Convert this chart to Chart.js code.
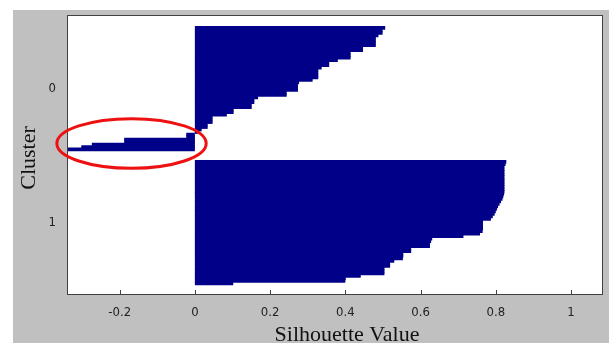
<!DOCTYPE html>
<html>
<head>
<meta charset="utf-8">
<script src="https://cdn.jsdelivr.net/npm/chart.js@4/dist/chart.umd.min.js"></script>
<style>
  body { margin: 0; background: #fff; }
  canvas { display: block; }
</style>
</head>
<body>
<canvas id="silChart" width="609" height="343"></canvas>
<script>
// silhouette values, sorted per cluster (top to bottom)
const cluster0 = [
  0.506, 0.499, 0.499, 0.488, 0.481, 0.481, 0.481, 0.481, 0.447, 0.447,
  0.414, 0.414, 0.414, 0.380, 0.357, 0.357, 0.337, 0.328, 0.328, 0.328,
  0.328, 0.313, 0.277, 0.274, 0.274, 0.274, 0.244, 0.244, 0.168, 0.158,
  0.158, 0.151, 0.151, 0.103, 0.103, 0.085, 0.047, 0.047, 0.047, 0.034,
  0.034, 0.018, 0.008, -0.023, -0.023, -0.188, -0.188, -0.274, -0.302, -0.345
];
const cluster1 = [
  0.828, 0.826, 0.823, 0.823, 0.823, 0.823, 0.823, 0.823, 0.823, 0.823,
  0.823, 0.823, 0.823, 0.822, 0.820, 0.818, 0.814, 0.810, 0.806, 0.803,
  0.800, 0.797, 0.792, 0.787, 0.766, 0.766, 0.766, 0.766, 0.765, 0.758,
  0.714, 0.631, 0.628, 0.625, 0.625, 0.575, 0.575, 0.554, 0.554, 0.553,
  0.530, 0.519, 0.519, 0.504, 0.504, 0.504, 0.441, 0.401, 0.400, 0.102
];
const clusterLabels = ['0', '1'];
const xTicks = [-0.2, 0, 0.2, 0.4, 0.6, 0.8, 1];
const gapRows = 4;

// red ring around the negative values (data units)
const ring = { xMin: -0.367, xMax: 0.03, yMin: 37.6, yMax: 57.6 };

var rows = [];
var centers = [];
var row = 1;
[cluster0, cluster1].forEach(function (vals) {
  var first = row;
  vals.forEach(function (v) {
    rows.push({ x: v, y: row });
    row++;
  });
  centers.push((first + row - 1) / 2);
  row += gapRows;
});

const frame = {
  id: 'frame',
  beforeDraw(chart) {
    const ctx = chart.ctx;
    const a = chart.chartArea;
    ctx.save();
    ctx.fillStyle = '#c0c0c0';
    ctx.fillRect(13, 10, chart.width - 13, chart.height - 10);
    ctx.fillStyle = '#ffffff';
    ctx.fillRect(a.left, a.top, a.right - a.left, a.bottom - a.top);
    ctx.restore();
  },
  afterDraw(chart) {
    const ctx = chart.ctx;
    const a = chart.chartArea;
    const xs = chart.scales.x;
    const ys = chart.scales.y;
    ctx.save();
    // box
    ctx.strokeStyle = '#404040';
    ctx.lineWidth = 1;
    ctx.strokeRect(a.left + 0.5, a.top + 0.5, a.right - a.left - 1, a.bottom - a.top - 1);
    // inward ticks
    xTicks.forEach(function (v) {
      var px = Math.round(xs.getPixelForValue(v)) + 0.5;
      ctx.beginPath();
      ctx.moveTo(px, a.bottom);
      ctx.lineTo(px, a.bottom - 5);
      ctx.stroke();
    });
    // ring
    var x1 = xs.getPixelForValue(ring.xMin), x2 = xs.getPixelForValue(ring.xMax);
    var y1 = ys.getPixelForValue(ring.yMin), y2 = ys.getPixelForValue(ring.yMax);
    ctx.beginPath();
    ctx.ellipse((x1 + x2) / 2, (y1 + y2) / 2, Math.abs(x2 - x1) / 2, Math.abs(y2 - y1) / 2, 0, 0, Math.PI * 2);
    ctx.strokeStyle = '#ee1111';
    ctx.lineWidth = 3;
    ctx.stroke();
    // axis titles
    ctx.fillStyle = '#111';
    ctx.font = '22px "Liberation Serif", "Times New Roman", serif';
    ctx.textAlign = 'center';
    ctx.textBaseline = 'alphabetic';
    ctx.fillText('Silhouette Value', 347, 341);
    ctx.translate(35, (a.top + a.bottom) / 2 + 3);
    ctx.rotate(-Math.PI / 2);
    ctx.fillText('Cluster', 0, 0);
    ctx.restore();
  }
};

var ctx1 = document.getElementById('silChart');
const silChart = new Chart(ctx1, {
  type: 'bar',
  data: {
    datasets: [{
      data: rows,
      backgroundColor: '#000088',
      borderWidth: 0,
      inflateAmount: 0,
      barPercentage: 1.45,
      categoryPercentage: 1
    }]
  },
  options: {
    indexAxis: 'y',
    responsive: false,
    animation: false,
    layout: {
      padding: { left: 0, top: 15, right: 6, bottom: 0 }
    },
    plugins: {
      legend: { display: false },
      tooltip: { enabled: false }
    },
    scales: {
      x: {
        type: 'linear',
        min: -0.34,
        max: 1.085,
        grid: { display: false },
        border: { display: false },
        afterBuildTicks: function (scale) {
          scale.ticks = xTicks.map(function (v) { return { value: v }; });
        },
        afterFit: function (scale) {
          scale.height = 48;
        },
        ticks: {
          padding: 2,
          color: '#222',
          font: { family: '"DejaVu Sans Condensed", "Liberation Sans Narrow", sans-serif', size: 13 },
          callback: function (v) { return String(v); }
        }
      },
      y: {
        type: 'linear',
        reverse: true,
        offset: false,
        min: -4.2,
        max: 108.7,
        grid: { display: false, offset: false },
        border: { display: false },
        afterBuildTicks: function (scale) {
          scale.ticks = centers.map(function (v) { return { value: v }; });
        },
        afterFit: function (scale) {
          scale.width = 67;
        },
        ticks: {
          padding: 3,
          color: '#222',
          font: { family: '"DejaVu Sans Condensed", "Liberation Sans Narrow", sans-serif', size: 13 },
          callback: function (v, i) { return clusterLabels[i]; }
        }
      }
    }
  },
  plugins: [frame]
});
</script>
</body>
</html>
